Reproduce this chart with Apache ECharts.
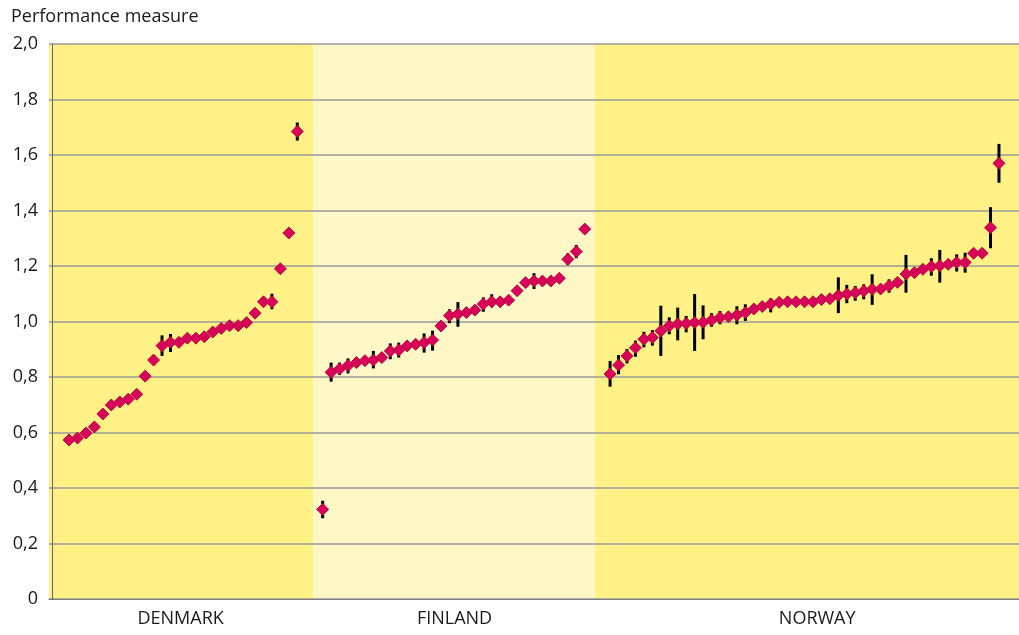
<!DOCTYPE html>
<html>
<head>
<meta charset="utf-8">
<script src="https://cdn.jsdelivr.net/npm/echarts@6/dist/echarts.min.js"></script>
<style>
  html, body { margin: 0; padding: 0; background: #fff; }
  #chart { width: 1019px; height: 635px; }
</style>
</head>
<body>
<div id="chart"></div>
<script>
// countries (groups), where their bands end on the slot axis, and label positions
const countries = ['DENMARK', 'FINLAND', 'NORWAY'];
const bandColors = ['#FFF186', '#FFF7C6', '#FFF186'];
const bandEdges = [-0.37, 30.9, 64.2, 114.37];
const labelSlots = [15.2, 47.6, 90.5];

// performance measure per unit, sorted within country; null = no visible interval
const denmarkValue = [0.573, 0.580, 0.598, 0.620, 0.667, 0.699, 0.710, 0.720, 0.738, 0.803,
  0.861, 0.913, 0.925, 0.925, 0.940, 0.940, 0.945, 0.962, 0.975, 0.985,
  0.985, 0.996, 1.030, 1.071, 1.071, 1.190, 1.319, 1.685];
const denmarkLow = [null, null, null, null, null, null, null, null, null, null,
  null, 0.876, 0.890, null, null, null, null, null, null, null,
  null, null, null, null, 1.044, null, null, 1.652];
const denmarkHigh = [null, null, null, null, null, null, null, null, null, null,
  null, 0.950, 0.955, null, null, null, null, null, null, null,
  null, null, null, null, 1.100, null, null, 1.717];

const finlandValue = [0.323, 0.817, 0.829, 0.841, 0.852, 0.859, 0.861, 0.870, 0.894, 0.897,
  0.912, 0.918, 0.924, 0.933, 0.984, 1.021, 1.027, 1.032, 1.041, 1.063,
  1.071, 1.071, 1.077, 1.111, 1.140, 1.146, 1.146, 1.146, 1.156, 1.224,
  1.252, 1.333];
const finlandLow = [0.291, 0.783, 0.807, 0.813, null, null, 0.831, null, 0.864, 0.870,
  null, null, 0.888, 0.895, null, 0.994, 0.981, null, null, 1.035,
  1.051, null, null, null, null, 1.117, null, null, null, 1.204,
  1.228, null];
const finlandHigh = [0.354, 0.852, 0.852, 0.867, null, null, 0.894, null, 0.921, 0.924,
  null, null, 0.957, 0.967, null, 1.044, 1.070, null, null, 1.087,
  1.098, null, null, null, null, 1.174, null, null, null, 1.246,
  1.276, null];

const norwayValue = [0.811, 0.843, 0.876, 0.905, 0.936, 0.942, 0.966, 0.984, 0.991, 0.993,
  0.996, 0.997, 1.005, 1.014, 1.017, 1.023, 1.032, 1.045, 1.054, 1.063,
  1.069, 1.071, 1.071, 1.071, 1.071, 1.079, 1.082, 1.094, 1.099, 1.104,
  1.110, 1.116, 1.117, 1.129, 1.141, 1.171, 1.176, 1.188, 1.198, 1.201,
  1.206, 1.213, 1.213, 1.246, 1.246, 1.338, 1.570];
const norwayLow = [0.765, 0.810, 0.849, 0.873, 0.907, 0.913, 0.876, 0.954, 0.932, 0.961,
  0.894, 0.936, 0.981, 0.990, null, 0.990, 1.002, null, null, 1.033,
  null, null, null, null, null, null, null, 1.030, 1.066, 1.075,
  1.080, 1.060, null, 1.104, null, 1.104, null, null, 1.165, 1.140,
  null, 1.180, 1.176, null, null, 1.264, 1.500];
const norwayHigh = [0.858, 0.879, 0.901, 0.931, 0.963, 0.969, 1.057, 1.015, 1.050, 1.020,
  1.099, 1.058, 1.030, 1.038, null, 1.055, 1.062, null, null, 1.083,
  null, null, null, null, null, null, null, 1.159, 1.132, 1.128,
  1.134, 1.170, null, 1.152, null, 1.240, null, null, 1.228, 1.258,
  null, 1.242, 1.248, null, null, 1.412, 1.640];

const groups = [
  { value: denmarkValue, low: denmarkLow, high: denmarkHigh },
  { value: finlandValue, low: finlandLow, high: finlandHigh },
  { value: norwayValue, low: norwayLow, high: norwayHigh }
];

// one slot per unit, 2 empty slots before/between groups
const GAP = 2;
let slot = GAP;
const points = [];
const bars = [];
groups.forEach(function (g) {
  g.value.forEach(function (v, i) {
    points.push([slot, v]);
    if (g.low[i] != null) bars.push([slot, g.low[i], g.high[i]]);
    slot++;
  });
  slot += GAP;
});

const font = 'Open Sans, Noto Sans, sans-serif';
const chart = echarts.init(document.getElementById('chart'));
chart.setOption({
  animation: false,
  title: {
    text: 'Performance measure',
    left: 6, top: 3,
    textStyle: { fontFamily: font, fontSize: 18, fontWeight: 'normal', color: '#1a1a1a' }
  },
  grid: { left: 49, right: 0, top: 44, bottom: 36 },
  xAxis: {
    type: 'value',
    min: bandEdges[0], max: bandEdges[3],
    splitLine: { show: false },
    axisTick: { show: false },
    axisLine: { onZero: false, lineStyle: { color: '#333', width: 1 } },
    axisLabel: {
      customValues: labelSlots,
      margin: 11,
      fontFamily: font, fontSize: 18, color: '#1a1a1a',
      formatter: function (v) {
        const i = labelSlots.findIndex(function (p) { return Math.abs(p - v) < 1e-6; });
        return i >= 0 ? countries[i] : '';
      }
    }
  },
  yAxis: {
    type: 'value',
    min: 0, max: 2, interval: 0.2,
    z: 1.5,
    axisLine: { show: true, lineStyle: { color: '#666', width: 1 } },
    axisTick: { show: false },
    splitLine: { lineStyle: { color: '#9a9a9a', width: 1.5 } },
    axisLabel: {
      margin: 11,
      fontFamily: font, fontSize: 18, color: '#1a1a1a',
      formatter: function (v) { return v === 0 ? '0' : v.toFixed(1).replace('.', ','); }
    }
  },
  series: [
    {
      type: 'line',
      data: [],
      z: 1,
      silent: true,
      markArea: {
        silent: true,
        data: countries.map(function (c, i) {
          return [{ xAxis: bandEdges[i], itemStyle: { color: bandColors[i] } }, { xAxis: bandEdges[i + 1] }];
        })
      }
    },
    {
      type: 'custom',
      z: 2,
      silent: true,
      data: bars,
      renderItem: function (params, api) {
        const top = api.coord([api.value(0), api.value(2)]);
        const bottom = api.coord([api.value(0), api.value(1)]);
        return {
          type: 'line',
          shape: { x1: top[0], y1: top[1], x2: bottom[0], y2: bottom[1] },
          style: { stroke: '#000', lineWidth: 3 }
        };
      }
    },
    {
      type: 'scatter',
      z: 3,
      data: points,
      symbol: 'diamond',
      symbolSize: [12, 12],
      itemStyle: { color: '#D9005B', borderColor: '#B21338', borderWidth: 1, opacity: 1 }
    }
  ]
});
</script>
</body>
</html>
